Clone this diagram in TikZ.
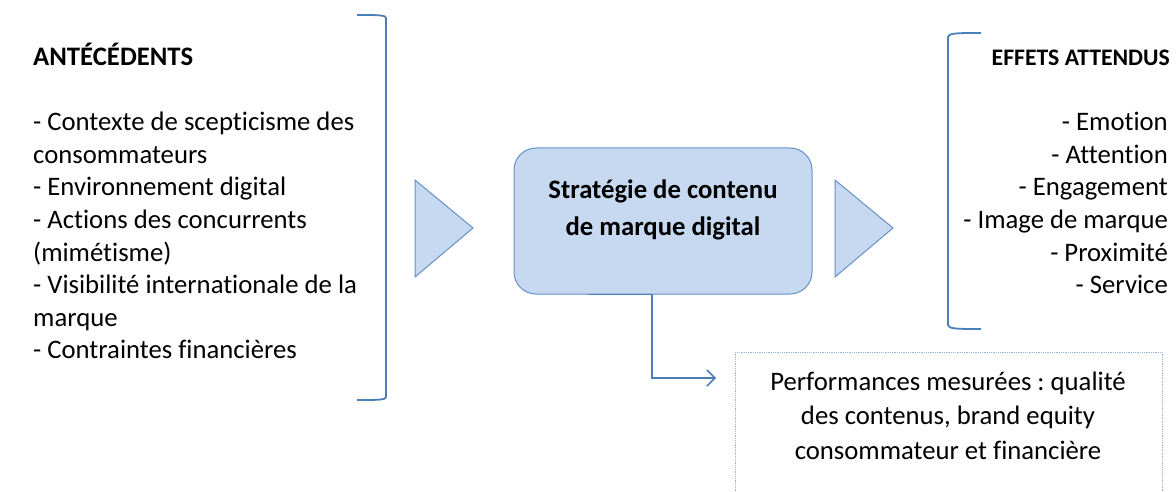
\documentclass[tikz,border=0pt]{standalone}
\usepackage{fontspec}
\setmainfont{Carlito}[Ligatures={NoCommon}]
\usetikzlibrary{arrows.meta,calc}
\definecolor{lineblue}{HTML}{4A7EBB}
\definecolor{fillblue}{HTML}{C6D9F1}
\definecolor{dotblue}{HTML}{95B3D7}
\frenchspacing
\tikzset{
  txt/.style={inner sep=0pt,font=\fontsize{26.7}{32.5}\selectfont},
  ttl/.style={inner sep=0pt,font=\fontsize{26.7}{32.5}\selectfont\bfseries},
  ttlsmall/.style={inner sep=0pt,font=\fontsize{23.7}{28}\selectfont\bfseries},
  brk/.style={draw=lineblue,line width=1.8pt,line join=round},
  tri/.style={draw=lineblue!85,fill=fillblue,line width=1pt},
}
\begin{document}
\begin{tikzpicture}[x=1pt,y=-1pt]
\useasboundingbox (0,0) rectangle (1176,492);
% left block
\node[ttl,anchor=base west] (antt) at (33,66) {ANTÉCÉDENTS};
\foreach \t [count=\i] in {- Contexte de scepticisme des,consommateurs,- Environnement digital,- Actions des concurrents,(mimétisme),- Visibilité internationale de la,marque,- Contraintes financières}
  \node[txt,anchor=base west] (l\i) at (33,{131+32.5*(\i-1)}) {\t};
% left bracket
\draw[brk] (357,15) .. controls (378,15) and (386,15) .. (386,18) -- (386,397) .. controls (386,400) and (378,400) .. (357,400);
% triangles
\draw[tri] (415,180) -- (415,277) -- (473,228) -- cycle;
\draw[tri] (835,180) -- (835,277) -- (893,228) -- cycle;
% centre box
\node[draw=lineblue!85,fill=fillblue,line width=1pt,rounded corners=22pt,minimum width=298pt,minimum height=146pt,inner sep=0pt] (box) at (663,221) {};
\node[ttl,anchor=base] (s1) at (663,198) {Stratégie de contenu};
\node[ttl,anchor=base] (s2) at (663,235) {de marque digital};
% right bracket
\draw[brk] (981,33) .. controls (958,33) and (948,33) .. (948,37) -- (948,325) .. controls (948,329) and (958,329) .. (981,329);
\node[ttlsmall,anchor=base east] (eff) at (1170,66) {EFFETS ATTENDUS};
\foreach \t [count=\i] in {- Emotion,- Attention,- Engagement,- Image de marque,- Proximité,- Service}
  \node[txt,anchor=base east] (r\i) at (1168,{131+32.5*(\i-1)}) {\t};
% bottom box
\node[draw=dotblue,densely dotted,line width=0.8pt,minimum width=427pt,minimum height=160pt,anchor=north west,inner sep=0pt] (perf) at (735,352) {};
\node[txt,anchor=base] (p1) at (948,390) {Performances mesurées : qualité};
\node[txt,anchor=base] (p2) at (948,424) {des contenus, brand equity};
\node[txt,anchor=base] (p3) at (948,459) {consommateur et financière};
% connector
\coordinate (cend) at ($(perf.north west)+(-19,26)$);
\draw[lineblue,line width=1.5pt,-{Straight Barb[length=8pt,width=16pt]}] ($(box.south)+(-75,0)$) -- ($(box.south)+(-11,0)$) |- (cend);
\end{tikzpicture}
\end{document}
